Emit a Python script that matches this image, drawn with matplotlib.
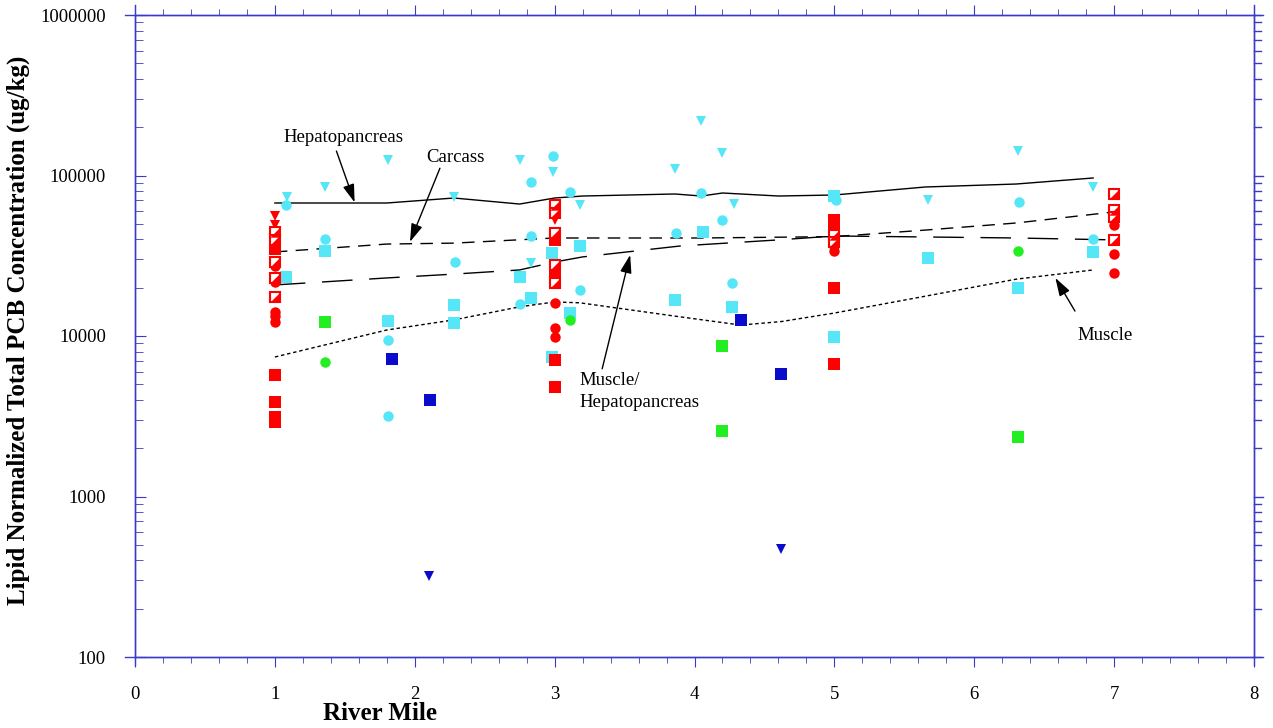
import matplotlib
matplotlib.use("Agg")
import matplotlib.pyplot as plt
from matplotlib.ticker import FixedLocator, LogLocator, NullFormatter

# ---------------- data ----------------
# Red samples
red_circle_x = [1, 1, 1, 1, 1, 3, 3, 3, 5, 5, 7, 7, 7]
red_circle_y = [27300, 21700, 14100, 13300, 12200, 16100, 11200, 9860, 36400, 33800, 49200, 32400, 24700]
red_square_x = [1, 1, 1, 1, 1, 3, 3, 3, 3, 5, 5, 5, 5]
red_square_y = [34800, 5750, 3900, 3150, 2900, 39700, 25000, 7080, 4810, 52800, 49200, 19900, 6690]
red_tri_x = [1, 1, 3]
red_tri_y = [56000, 49200, 52800]
red_half_x = [1, 1, 1, 1, 1, 3, 3, 3, 3, 3, 5, 5, 7, 7, 7, 7]
red_half_y = [44400, 39700, 28900, 22900, 17500, 65500, 58400, 43800, 27700, 21400, 42600, 38500,
              76700, 61000, 55100, 39700]

# Cyan samples
cyan_circle_x = [1.08, 1.36, 1.81, 1.81, 2.29, 2.75, 2.83, 2.83, 2.99, 3.11, 3.18, 3.87, 4.05,
                 4.2, 4.27, 5.01, 6.32, 6.85]
cyan_circle_y = [65500, 40200, 9440, 3180, 28900, 15800, 91100, 42000, 132000, 78900, 19400, 43800,
                 77800, 52800, 21400, 70400, 68000, 40200]
cyan_square_x = [1.08, 1.36, 1.81, 2.28, 2.28, 2.75, 2.83, 2.98, 2.98, 3.11, 3.18, 3.86, 4.06,
                 4.2, 4.27, 5.0, 5.0, 5.67, 6.31, 6.85]
cyan_square_y = [23300, 33900, 12400, 15600, 12100, 23300, 17300, 32900, 7400, 13900, 36400, 16800,
                 44400, 8670, 15200, 74500, 9860, 30600, 19900, 33400]
cyan_tri_x = [1.09, 1.36, 1.81, 2.28, 2.75, 2.83, 2.99, 3.18, 3.86, 4.05, 4.2, 4.28, 5.67, 6.31, 6.85]
cyan_tri_y = [73500, 84800, 125000, 73500, 125000, 28500, 105000, 65500, 110000, 219000, 138000,
              66400, 70400, 142000, 84800]

# Green samples
green_circle_x = [1.36, 3.11, 6.31]
green_circle_y = [6890, 12600, 33800]
green_square_x = [1.36, 4.2, 4.2, 6.31]
green_square_y = [12200, 8700, 2560, 2350]

# Blue samples
blue_square_x = [1.84, 2.11, 4.33, 4.62]
blue_square_y = [7200, 3990, 12600, 5800]
blue_tri_x = [2.1, 4.62]
blue_tri_y = [320, 471]

# Trend lines
hep_x = [1, 1.8, 2.28, 2.75, 3.0, 3.2, 3.86, 4.05, 4.2, 4.6, 5.0, 5.65, 6.3, 6.85]
hep_y = [67400, 67400, 72400, 66400, 72400, 74500, 76700, 74500, 77800, 74500, 75600, 84800, 88500, 96500]
carc_x = [1, 1.8, 2.28, 3.0, 4.05, 5.0, 5.65, 6.3, 7.0]
carc_y = [33400, 37400, 37900, 40800, 40800, 41600, 45700, 50600, 59300]
mh_x = [1, 1.8, 2.28, 2.75, 3.0, 3.2, 3.9, 4.6, 5.0, 5.65, 6.3, 7.0]
mh_y = [20800, 23000, 24300, 25800, 28900, 31100, 36400, 39700, 42000, 41400, 40800, 39700]
mus_x = [1, 1.8, 2.28, 2.75, 3.0, 3.18, 3.86, 4.33, 4.62, 5.0, 5.65, 6.3, 6.85]
mus_y = [7400, 10900, 12600, 15200, 16300, 16100, 13300, 11700, 12300, 13900, 17700, 22600, 25800]

x_ticks = [0, 1, 2, 3, 4, 5, 6, 7, 8]
y_ticks = [100, 1000, 10000, 100000, 1000000]
y_ticklabels = ["100", "1000", "10000", "100000", "1000000"]

# ---------------- style ----------------
RED = "#ff0000"
CYAN = "#55e6f7"
GREEN = "#22ee22"
BLUE = "#0b0bcc"
AXC = "#3a3ac8"
SERIF = ["Liberation Serif", "DejaVu Serif"]

plt.rcParams["font.family"] = SERIF

fig = plt.figure(figsize=(12.73, 7.28), dpi=100)
ax = fig.add_axes([135 / 1273, 71 / 728, 1119 / 1273, 642 / 728])
ax.set_yscale("log")
ax.set_xlim(0, 8)
ax.set_ylim(100, 1000000)

# lines
ax.plot(hep_x, hep_y, color="black", lw=1.0, zorder=2)
ax.plot(carc_x, carc_y, color="black", lw=1.0, dashes=(9, 6), zorder=2)
ax.plot(mh_x, mh_y, color="black", lw=1.0, dashes=(22, 12), zorder=2)
ax.plot(mus_x, mus_y, color="black", lw=1.0, dashes=(2.5, 2.0), zorder=2)

ms_sq = 8
ms_ci = 7.5
ms_tr = 7.5

def pts(x, y, marker, color, ms, z=3):
    ax.plot(x, y, linestyle="none", marker=marker, color=color, markersize=ms,
            markeredgewidth=0, zorder=z)

pts(cyan_square_x, cyan_square_y, "s", CYAN, ms_sq)
pts(cyan_circle_x, cyan_circle_y, "o", CYAN, ms_ci)
pts(cyan_tri_x, cyan_tri_y, "v", CYAN, ms_tr)
pts(green_square_x, green_square_y, "s", GREEN, ms_sq)
pts(green_circle_x, green_circle_y, "o", GREEN, ms_ci)
pts(blue_square_x, blue_square_y, "s", BLUE, ms_sq)
pts(blue_tri_x, blue_tri_y, "v", BLUE, ms_tr)
pts(red_circle_x, red_circle_y, "o", RED, ms_ci, 4)
pts(red_square_x, red_square_y, "s", RED, ms_sq, 4)
pts(red_tri_x, red_tri_y, "v", RED, ms_tr, 4)
# half-filled squares: white square with red edge + lower-right red triangle
ax.plot(red_half_x, red_half_y, linestyle="none", marker="s", markersize=ms_sq - 0.5,
        markerfacecolor="white", markeredgecolor=RED, markeredgewidth=1.5, zorder=5)
tri_marker = [(-1, -1), (1, -1), (1, 1), (-1, -1)]
ax.plot(red_half_x, red_half_y, linestyle="none", marker=tri_marker, markersize=ms_sq - 0.5,
        color=RED, markeredgewidth=0, zorder=6)

# axes styling
for s in ax.spines.values():
    s.set_color(AXC)
    s.set_linewidth(1.0)
ax.xaxis.set_major_locator(FixedLocator(x_ticks))
ax.xaxis.set_minor_locator(FixedLocator([i * 0.2 for i in range(41)]))
ax.set_xticklabels([str(t) for t in x_ticks])
ax.yaxis.set_major_locator(FixedLocator(y_ticks))
ax.set_yticklabels(y_ticklabels)
ax.yaxis.set_minor_locator(LogLocator(base=10, subs=range(2, 10)))
ax.yaxis.set_minor_formatter(NullFormatter())

ax.tick_params(axis="x", which="both", direction="out", top=True, bottom=True,
               color=AXC, labelsize=13.5, pad=14)
ax.tick_params(axis="x", which="major", length=7)
ax.tick_params(axis="x", which="minor", length=4)
ax.tick_params(axis="y", which="both", left=True, right=False, color=AXC, labelsize=13.5,
               direction="in", pad=21)
ax.tick_params(axis="y", which="major", length=8)
ax.tick_params(axis="y", which="minor", length=6)
# right-side ticks pointing outward
for yv in [m * 10 ** e for e in range(2, 6) for m in range(2, 10)]:
    ax.plot([1.0, 1.006], [yv, yv], transform=ax.get_yaxis_transform(), color=AXC,
            lw=1.0, clip_on=False, zorder=1)
for yv in y_ticks:
    ax.plot([1.0, 1.008], [yv, yv], transform=ax.get_yaxis_transform(), color=AXC,
            lw=1.0, clip_on=False, zorder=1)

# spine extensions
ax.plot([-0.009, 1.006], [0, 0], transform=ax.transAxes, color=AXC, lw=1.0, clip_on=False)
ax.plot([-0.009, 1.006], [1, 1], transform=ax.transAxes, color=AXC, lw=1.0, clip_on=False)
ax.plot([0, 0], [-0.012, 1.015], transform=ax.transAxes, color=AXC, lw=1.0, clip_on=False)
ax.plot([1, 1], [-0.012, 1.015], transform=ax.transAxes, color=AXC, lw=1.0, clip_on=False)

# labels
fig.text(18 / 1273, 1 - 330 / 728, "Lipid Normalized Total PCB Concentration (ug/kg)",
         rotation=90, ha="center", va="center", fontsize=18, fontweight="bold")
fig.text(380 / 1273, 1 - 713 / 728, "River Mile", ha="center", va="center",
         fontsize=18, fontweight="bold")

# annotations
arrow = dict(arrowstyle="-|>,head_length=1.1,head_width=0.35", color="black", lw=1.0,
             shrinkA=0, shrinkB=0)
ax.text(1.06, 162000, "Hepatopancreas", fontsize=13.5, ha="left", va="baseline")
ax.annotate("", xy=(1.57, 68000), xytext=(1.44, 142000), arrowprops=arrow)
ax.text(2.29, 121000, "Carcass", fontsize=13.5, ha="center", va="baseline")
ax.annotate("", xy=(1.966, 38600), xytext=(2.18, 111000), arrowprops=arrow)
ax.text(3.18, 5300, "Muscle/", fontsize=13.5, ha="left", va="center")
ax.text(3.18, 3850, "Hepatopancreas", fontsize=13.5, ha="left", va="center")
ax.annotate("", xy=(3.54, 32000), xytext=(3.34, 6250), arrowprops=arrow)
ax.text(6.74, 10000, "Muscle", fontsize=13.5, ha="left", va="center")
ax.annotate("", xy=(6.58, 23000), xytext=(6.72, 14300), arrowprops=arrow)

fig.savefig("out.png", dpi=100)
